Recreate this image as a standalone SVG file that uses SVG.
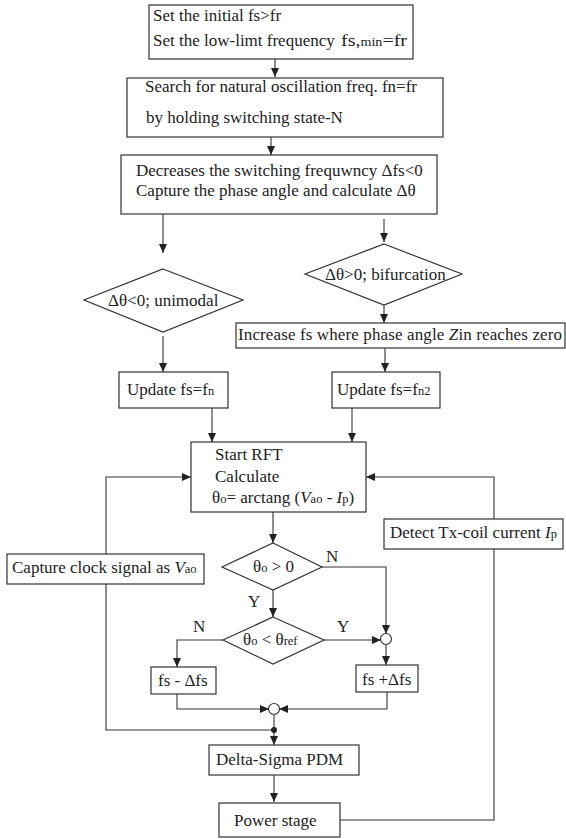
<svg xmlns="http://www.w3.org/2000/svg" width="566" height="839" viewBox="0 0 566 839">
<defs>
<marker id="ah" markerUnits="userSpaceOnUse" markerWidth="9" markerHeight="8" refX="9" refY="4" orient="auto">
<path d="M0,0 L9,4 L0,8 z" fill="#222"/>
</marker>
<style>
text{font-family:"Liberation Serif","Times New Roman",serif;font-size:17px;fill:#222}
.b{fill:#fff;stroke:#333;stroke-width:1.2}
.c path{fill:none;stroke:#333;stroke-width:1.1}
.a{marker-end:url(#ah)}
.s{font-size:12.5px}
.i{font-style:italic}
</style>
</defs>
<rect width="566" height="839" fill="#fff"/>

<g class="c" id="connectors">
<path class="a" d="M275,59 V77"/>
<path class="a" d="M271,137 V155"/>
<path class="a" d="M163,214 V253"/>
<path class="a" d="M384,219 V242"/>
<path class="a" d="M384,305 V323"/>
<path class="a" d="M163,336 V372"/>
<path class="a" d="M385,348 V372"/>
<path class="a" d="M212,408 V442"/>
<path class="a" d="M352,408 V442"/>
<path class="a" d="M106,554 V477 H191"/>
<path class="a" d="M494,519 V477 H366"/>
<path class="a" d="M273,512 V543"/>
<path class="a" d="M322,567 H386 V634"/>
<path class="a" d="M273,590 V617"/>
<path class="a" d="M324,640 H381"/>
<path class="a" d="M386,645 V665"/>
<path class="a" d="M223,640 H177 V667"/>
<path class="a" d="M177,694 V709 H269"/>
<path class="a" d="M387,692 V709 H279"/>
<path class="a" d="M274,714 V745"/>
<path d="M106,584 V730 H274"/>
<path class="a" d="M274,775 V802"/>
<path d="M340,820 H494 V549"/>
</g>

<g id="n1"><rect class="b" x="149" y="5" width="264" height="54"/>
<text x="153" y="21">Set the initial fs&gt;fr</text>
<text x="153" y="46">Set the low-limt frequency</text>
<text x="341" y="46" font-size="14" textLength="66" lengthAdjust="spacingAndGlyphs">fs,<tspan font-size="12">min</tspan>=fr</text></g>

<g id="n2"><rect class="b" x="127" y="78" width="316" height="59"/>
<text x="145" y="92">Search for natural oscillation freq. fn=fr</text>
<text x="146" y="123">by holding switching state-N</text></g>

<g id="n3"><rect class="b" x="121" y="155" width="316" height="59"/>
<text x="136" y="176">Decreases the switching frequwncy Δfs&lt;0</text>
<text x="136" y="196">Capture the phase angle and calculate Δθ</text></g>

<g id="d1"><polygon class="b" points="163,269 243,300 163,332 84,300"/>
<text x="108" y="306">Δθ&lt;0; unimodal</text></g>

<g id="d2"><polygon class="b" points="384,244 462,274 384,305 305,274"/>
<text x="325" y="280">Δθ&gt;0; bifurcation</text></g>

<g id="n4"><rect class="b" x="236" y="323" width="329" height="25"/>
<text x="238" y="340" textLength="324" lengthAdjust="spacing">Increase fs where phase angle <tspan class="i">Z</tspan>in reaches zero</text></g>

<g id="n5"><rect class="b" x="119" y="372" width="109" height="36"/>
<text x="127" y="395">Update fs=f<tspan class="s" font-size="13">n</tspan></text></g>

<g id="n6"><rect class="b" x="332" y="372" width="108" height="36"/>
<text x="337" y="395">Update fs=f<tspan class="s" font-size="13">n2</tspan></text></g>

<g id="n7"><rect class="b" x="191" y="442" width="175" height="70"/>
<text x="215" y="460">Start RFT</text>
<text x="215" y="482">Calculate</text>
<text x="212" y="503">θ<tspan class="s">o</tspan>= arctang (<tspan class="i">V</tspan><tspan class="s">ao</tspan> - <tspan class="i">I</tspan><tspan class="s">p</tspan>)</text></g>

<g id="n8"><rect class="b" x="7" y="554" width="197" height="30"/>
<text x="12" y="573">Capture clock signal as <tspan class="i">V</tspan><tspan class="s">ao</tspan></text></g>

<g id="n9"><rect class="b" x="384" y="519" width="179" height="30"/>
<text x="390" y="538">Detect Tx-coil current <tspan class="i">I</tspan><tspan class="s">p</tspan></text></g>

<g id="d3"><polygon class="b" points="273,543 322,567 273,590 222,567"/>
<text x="253" y="572">θ<tspan class="s">o</tspan> &gt; 0</text></g>

<g id="d4"><polygon class="b" points="273,617 324,640 273,664 223,640"/>
<text x="243" y="645">θ<tspan class="s">o</tspan> &lt; θ<tspan class="s">ref</tspan></text></g>

<g id="labels">
<text x="326" y="562">N</text>
<text x="248" y="607">Y</text>
<text x="337" y="632">Y</text>
<text x="193" y="632">N</text>
</g>

<g id="j1"><circle class="b" cx="386" cy="639" r="5.5"/></g>

<g id="n10"><rect class="b" x="151" y="667" width="65" height="27"/>
<text x="158" y="686">fs - Δfs</text></g>

<g id="n11"><rect class="b" x="356" y="665" width="62" height="27"/>
<text x="362" y="685">fs +Δfs</text></g>

<g id="j2"><circle class="b" cx="274" cy="709" r="5.5"/></g>
<g id="j3"><circle cx="274" cy="730" r="3" fill="#222"/></g>

<g id="n12"><rect class="b" x="209" y="745" width="150" height="30"/>
<text x="216" y="765">Delta-Sigma PDM</text></g>

<g id="n13"><rect class="b" x="219" y="803" width="121" height="34"/>
<text x="234" y="826">Power stage</text></g>
</svg>
